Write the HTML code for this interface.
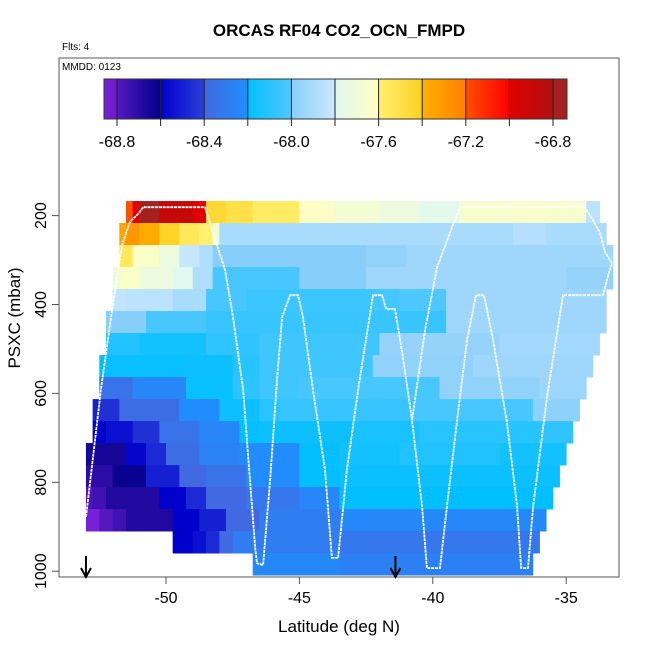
<!DOCTYPE html>
<html><head><meta charset="utf-8">
<style>
html,body{margin:0;padding:0;background:#fff;}
svg text{font-family:"Liberation Sans",Arial,sans-serif;}
</style></head>
<body>
<svg id="chart" width="650" height="650" viewBox="0 0 650 650" xmlns="http://www.w3.org/2000/svg">
<rect width="650" height="650" fill="#fff"/>
<text x="339" y="36" text-anchor="middle" font-size="17" font-weight="bold">ORCAS RF04 CO2_OCN_FMPD</text>
<text x="62" y="50" font-size="10">Flts: 4</text>
<g id="cells"></g>
<g id="track"></g>
<g id="cbar"></g>
<rect x="59" y="58" width="560" height="519" fill="none" stroke="#555" stroke-width="1"/>
<text x="62" y="70" font-size="10">MMDD: 0123</text>
<g id="axes"></g>
<text x="339" y="632" text-anchor="middle" font-size="17">Latitude (deg N)</text>
<text transform="translate(20,318) rotate(-90)" text-anchor="middle" font-size="17">PSXC (mbar)</text>
</svg>
<script>
// ---- data ----
const xTicks = [-50,-45,-40,-35];
const yTicks = [200,400,600,800,1000];
const cbarLabels = [-68.8,-68.4,-68.0,-67.6,-67.2,-66.8];
const rowPressures = [192,241.5,291,340.5,390,439.5,489,538.5,588,637.5,687,736.5,786,835.5,885,934.5,984];
const rowEnds = [-33.75,-33.5,-33.25,-33.25,-33.5,-33.5,-33.75,-34.0,-34.25,-34.5,-34.75,-35.0,-35.25,-35.5,-35.75,-36.0,-36.25];
const row0 = [[-51.5,-67.2],[-51.25,-67.0],[-51.0,-66.78],[-50.25,-66.9],[-49.0,-67.0],[-48.5,-67.45],[-47.75,-67.5],[-46.75,-67.57],[-45.0,-67.62],[-43.75,-67.68],[-42.0,-67.72],[-40.5,-67.78],[-39.0,-67.65],[-34.25,-67.85]];
const row1 = [[-51.75,-67.35],[-51.5,-67.3],[-51.0,-67.38],[-50.25,-67.42],[-49.5,-67.55],[-48.75,-67.6],[-48.25,-67.7],[-48.0,-67.9],[-37.0,-67.87],[-35.75,-67.9]];
const row2 = [[-51.75,-67.55],[-51.25,-67.63],[-50.25,-67.72],[-49.5,-67.82],[-48.75,-67.88],[-48.25,-68.0],[-42.5,-67.97],[-41.0,-67.93]];
const row3 = [[-52.0,-67.72],[-51.75,-67.63],[-51.0,-67.72],[-49.75,-67.8],[-49.0,-67.88],[-48.25,-68.02],[-45.0,-68.0],[-42.5,-67.93],[-35.0,-67.96]];
const row4 = [[-52.0,-67.83],[-51.5,-67.85],[-49.75,-67.9],[-48.5,-68.02],[-47.0,-68.05],[-42.25,-68.03],[-41.25,-68.01],[-39.5,-67.93]];
const row5 = [[-52.25,-68.0],[-50.75,-68.02],[-48.5,-68.06],[-39.5,-67.93]];
const row6 = [[-52.25,-68.12],[-51.0,-68.15],[-48.5,-68.08],[-46.5,-68.04],[-42.0,-67.96],[-37.5,-67.92]];
const row7 = [[-52.5,-68.2],[-52.25,-68.18],[-49.25,-68.17],[-47.5,-68.1],[-46.5,-68.04],[-42.25,-67.97],[-38.5,-67.93]];
const row8 = [[-52.5,-68.35],[-51.25,-68.25],[-49.25,-68.18],[-47.5,-68.09],[-46.5,-68.04],[-45.0,-68.02],[-39.75,-67.97],[-36.0,-67.94]];
const row9 = [[-52.75,-68.5],[-52.5,-68.45],[-51.75,-68.38],[-49.5,-68.22],[-48.0,-68.17],[-46.5,-68.1],[-45.75,-68.06],[-40.75,-68.02],[-36.25,-67.98]];
const row10 = [[-52.75,-68.6],[-52.25,-68.55],[-51.25,-68.45],[-50.25,-68.35],[-48.75,-68.25],[-47.25,-68.19],[-46.5,-68.17],[-43.0,-68.14],[-40.5,-68.1],[-36.0,-68.08]];
const row11 = [[-53.0,-68.65],[-51.5,-68.58],[-50.75,-68.47],[-50.0,-68.38],[-48.75,-68.27],[-47.25,-68.22],[-45.0,-68.19],[-43.5,-68.15],[-41.25,-68.12],[-37.5,-68.15]];
const row12 = [[-53.0,-68.7],[-52.0,-68.62],[-50.75,-68.5],[-49.5,-68.4],[-48.5,-68.35],[-47.0,-68.22],[-45.0,-68.19],[-43.5,-68.17]];
const row13 = [[-53.0,-68.78],[-52.75,-68.75],[-52.25,-68.68],[-50.25,-68.6],[-49.25,-68.47],[-48.5,-68.4],[-47.0,-68.33],[-45.0,-68.25],[-43.5,-68.2]];
const row14 = [[-53.0,-68.85],[-52.5,-68.8],[-52.0,-68.75],[-51.5,-68.68],[-49.75,-68.6],[-48.75,-68.5],[-47.75,-68.4],[-46.5,-68.3],[-43.5,-68.24]];
const row15 = [[-49.75,-68.6],[-49.0,-68.55],[-48.5,-68.47],[-48.0,-68.4],[-47.5,-68.3],[-43.5,-68.33]];
const row16 = [[-46.75,-68.24],[-43.5,-68.28]];
const rows = [row0,row1,row2,row3,row4,row5,row6,row7,row8,row9,row10,row11,row12,row13,row14,row15,row16];
const trackLat = [-53.0,-52.44,-52.02,-51.65,-51.35,-51.01,-50.86,-48.54,-48.24,-47.79,-47.49,-47.11,-46.66,-46.59,-46.36,-46.10,-45.84,-45.65,-45.35,-45.05,-44.87,-44.49,-44.04,-43.78,-43.55,-43.22,-42.80,-42.24,-41.90,-41.75,-41.42,-41.12,-40.78,-40.40,-40.22,-39.73,-39.47,-39.09,-38.72,-38.38,-38.08,-37.74,-37.22,-36.84,-36.69,-36.43,-36.24,-35.72,-35.12,-33.62,-33.40,-33.28,-33.55,-33.73,-34.0,-34.30,-38.98,-39.36,-39.84,-40.29,-40.78];
const trackP = [878,592,412,266,214,194,181,181,239,322,428,592,946,982,986,795,570,428,379,379,428,592,772,970,970,772,592,379,379,410,410,518,660,855,993,993,855,660,480,379,379,480,666,855,993,993,855,608,379,379,329,307,282,239,210,181,181,239,316,457,660];
const arrowLats = [-53.0,-41.4];

// ---- scales ----
const X0=166, XS=26.68;
function xs(lon){return X0+(lon+50)*XS;}
function ys(p){return 215.6+(p-200)*0.4445;}
const CB_T0=117, CB_T1=553; // pixel positions of -68.8 and -66.8
function cbx(v){return CB_T0+(v+68.8)/2.0*(CB_T1-CB_T0);}
const CB_L=104, CB_R=567;
const segs=[
 [-68.95,-68.8,'#8a2be2','#6a1ad0'],[-68.8,-68.6,'#5518c0','#00008b'],
 [-68.6,-68.4,'#0000cd','#2a40d8'],[-68.4,-68.2,'#4169e1','#1e90ff'],
 [-68.2,-68.0,'#00bfff','#50c8ff'],[-68.0,-67.8,'#87cefa','#cce9ff'],
 [-67.8,-67.6,'#e0f8f0','#ffffc0'],[-67.6,-67.4,'#fff070','#ffd020'],
 [-67.4,-67.2,'#ffb000','#ff8000'],[-67.2,-67.0,'#ff5000','#ff0000'],
 [-67.0,-66.8,'#e00000','#b01010'],[-66.8,-66.6,'#a52020','#a52020']];
function hx(c){return [1,3,5].map(i=>parseInt(c.substr(i,2),16));}
function color(v){
  for(const s of segs){ if(v>=s[0]&&v<s[1]){const t=(v-s[0])/(s[1]-s[0]);const a=hx(s[2]),b=hx(s[3]);
    return 'rgb('+a.map((x,i)=>Math.round(x+(b[i]-x)*t)).join(',')+')';}}
  return v<-68.9?segs[0][2]:'#a52020';
}
const NS='http://www.w3.org/2000/svg';
function mk(tag,attrs,parent){const e=document.createElementNS(NS,tag);for(const k in attrs)e.setAttribute(k,attrs[k]);parent.appendChild(e);return e;}

// ---- heatmap ----
const cells=document.getElementById('cells');
const half=49.5/2;
rows.forEach((r,ri)=>{
  const y0=ys(rowPressures[ri]-half), y1=ys(rowPressures[ri]+half);
  r.forEach((run,k)=>{
    const end = k+1<r.length ? r[k+1][0] : rowEnds[ri];
    const e=mk('rect',{x:xs(run[0]).toFixed(2),y:y0.toFixed(2),width:(xs(end)-xs(run[0])+0.4).toFixed(2),height:(y1-y0+0.4).toFixed(2),fill:color(run[1])},cells);
    
    
  });
});

// ---- track ----
const tg=document.getElementById('track');
const pts=trackLat.map((l,i)=>xs(l).toFixed(1)+','+ys(trackP[i]).toFixed(1)).join(' ');
const pl=mk('polyline',{points:pts,fill:'none',stroke:'#fff','stroke-width':1.8,'stroke-dasharray':'3 0.8','stroke-linejoin':'round'},tg);



// ---- colorbar ----
const cb=document.getElementById('cbar');
for(let x=CB_L;x<CB_R;x+=1){
  const v=-68.8+(x+0.5-CB_T0)/(CB_T1-CB_T0)*2.0;
  mk('rect',{x:x,y:79,width:1.2,height:40,fill:color(v)},cb);
}
const cbf=mk('rect',{x:CB_L,y:79,width:CB_R-CB_L,height:40,fill:'none',stroke:'#333','stroke-width':1},cb);


for(let i=0;i<=10;i++){
  const x=cbx(-68.8+i*0.2);
  mk('line',{x1:x,x2:x,y1:79,y2:126,stroke:'#222','stroke-width':1},cb);
}
cbarLabels.forEach(v=>{
  const t=mk('text',{x:cbx(v),y:147,'text-anchor':'middle','font-size':16},cb);
  t.textContent=v.toFixed(1);
  
  
});

// ---- axes ----
const ax=document.getElementById('axes');
xTicks.forEach(v=>{
  const x=xs(v);
  mk('line',{x1:x,x2:x,y1:577,y2:584,stroke:'#555'},ax);
  const t=mk('text',{x:x,y:603,'text-anchor':'middle','font-size':16},ax);
  t.textContent=v;
  
  
});
yTicks.forEach(v=>{
  const y=ys(v);
  mk('line',{x1:52,x2:59,y1:y,y2:y,stroke:'#555'},ax);
  const t=mk('text',{transform:'translate(46,'+y+') rotate(-90)','text-anchor':'middle','font-size':16},ax);
  t.textContent=v;
  
  
});
arrowLats.forEach(l=>{
  const x=xs(l);
  const a=mk('path',{d:'M'+x+',556 L'+x+',576 M'+(x-5)+',568 L'+x+',577 L'+(x+5)+',568',stroke:'#000','stroke-width':2,fill:'none'},ax);
  
  
});
</script>
</body></html>
